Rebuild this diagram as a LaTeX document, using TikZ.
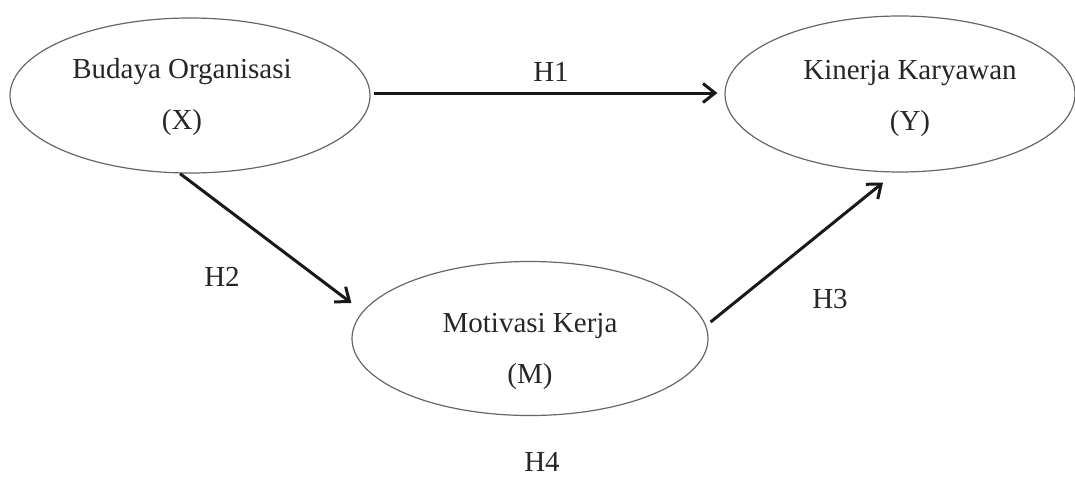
\documentclass[tikz,border=0pt]{standalone}
\usepackage{fontspec}
\setmainfont{Liberation Serif}
\usetikzlibrary{arrows.meta,shapes.geometric}
\begin{document}
\begin{tikzpicture}[x=1pt,y=-1pt,
  ell/.style={draw=black!60, line width=1.2pt, ellipse, inner sep=0pt},
  lbl/.style={font=\fontsize{29}{51}\selectfont, text=black!85, align=center, inner sep=0pt},
  arr/.style={draw=black!90, line width=3pt, -{Straight Barb[length=12pt,width=19pt]}}]
\useasboundingbox (0,0) rectangle (1075,477);
\node[ell, minimum width=360pt, minimum height=155pt,
  label={[lbl, xshift=-8pt, yshift=-2pt]center:Budaya Organisasi\\(X)}] (X) at (190,95.5) {};
\node[ell, minimum width=350pt, minimum height=156pt,
  label={[lbl, xshift=10pt, yshift=-4.5pt]center:Kinerja Karyawan\\(Y)}] (Y) at (900,94) {};
\node[ell, minimum width=356pt, minimum height=154pt,
  label={[lbl, yshift=-13pt]center:Motivasi Kerja\\(M)}] (M) at (530,338.5) {};
\node[lbl, anchor=base] (h1) at (551,81) {H1};
\node[lbl, anchor=base] (h2) at (222,286) {H2};
\node[lbl, anchor=base] (h3) at (830,308) {H3};
\node[lbl, anchor=base] (h4) at (542,471) {H4};
\draw[arr] ([xshift=3pt,yshift=2.5pt]X.east) -- ([xshift=-7pt,yshift=1pt]Y.west);
\draw[arr] ([xshift=-10pt]X.south) -- ([yshift=35.5pt]M.west);
\draw[arr] ([xshift=2pt,yshift=16.5pt]M.east) -- ([xshift=-17pt,yshift=-10pt]Y.south);
\end{tikzpicture}
\end{document}
